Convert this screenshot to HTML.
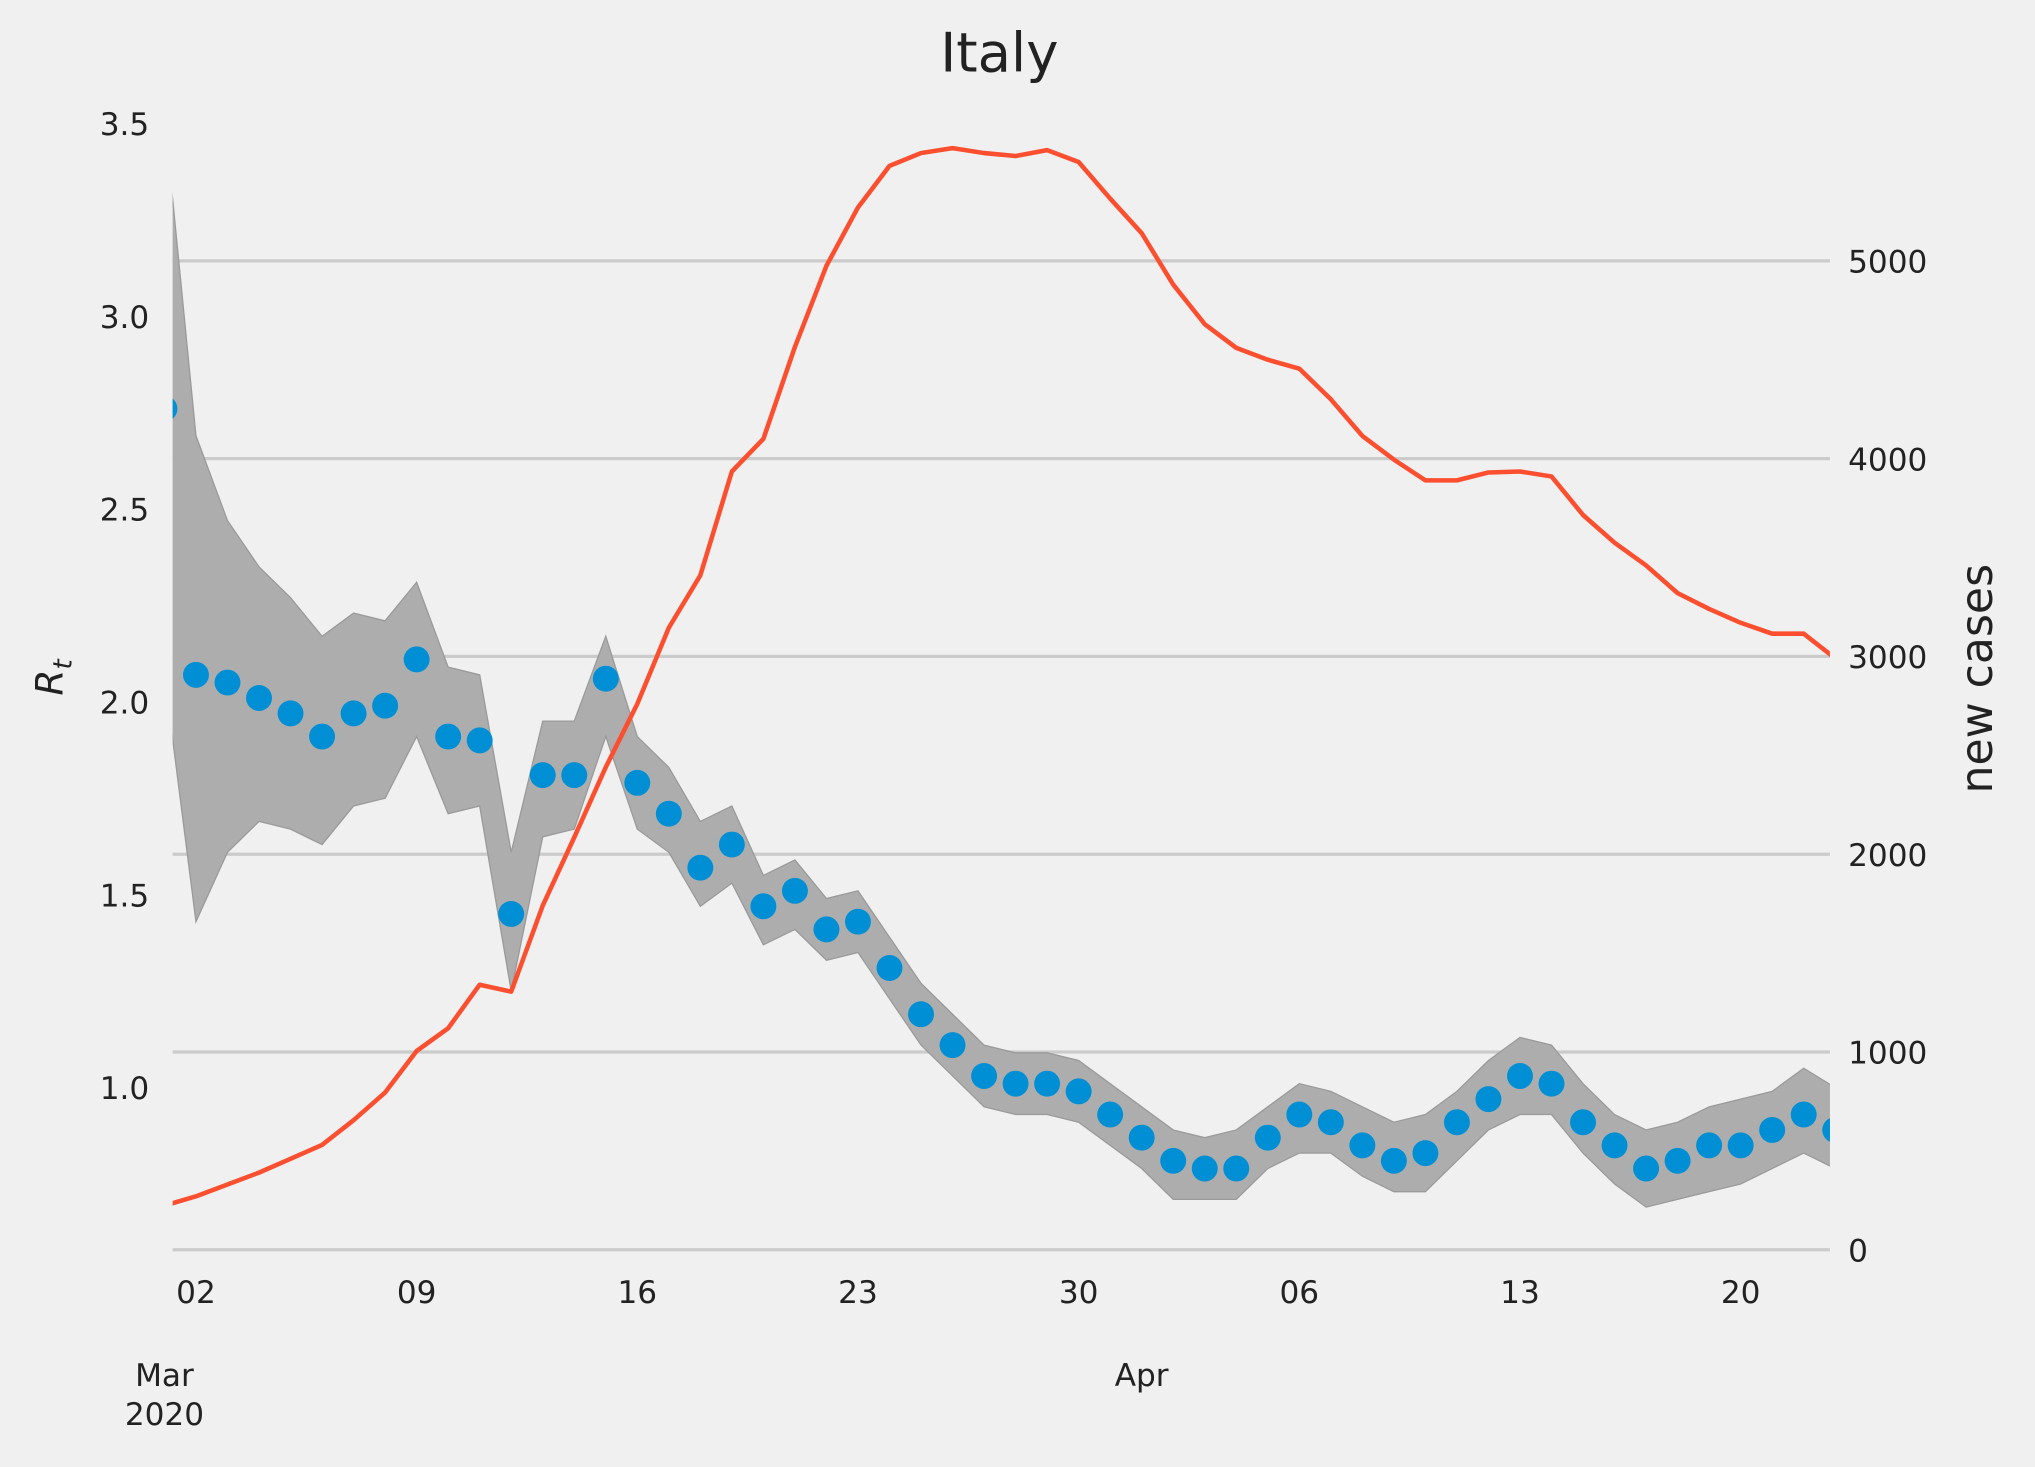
<!DOCTYPE html>
<html><head><meta charset="utf-8"><style>
html,body{margin:0;padding:0;background:#f0f0f0;}
svg{display:block;font-family:"DejaVu Sans","Liberation Sans",sans-serif;}
</style></head><body>
<svg id="chart" width="2035" height="1467" viewBox="0 0 1568 1130.4" preserveAspectRatio="none">
<rect x="0" y="0" width="1568" height="1131" fill="#f0f0f0"/>
<defs><clipPath id="pc"><rect x="133" y="80" width="1277" height="890"/></clipPath></defs>
<g id="grid"></g>
<g id="plot" clip-path="url(#pc)"></g>
<g id="axes"></g>
<text x="770" y="55" text-anchor="middle" font-size="42" fill="#222">Italy</text>
<text transform="translate(48,522) rotate(-90)" text-anchor="middle" font-size="29" fill="#222"><tspan font-style="italic">R</tspan><tspan font-style="italic" font-size="20" dy="7">t</tspan></text>
<text transform="translate(1535,523) rotate(-90)" text-anchor="middle" font-size="34" fill="#222">new cases</text>
</svg>
<script>
const rtValues=[2.76,2.07,2.05,2.01,1.97,1.91,1.97,1.99,2.11,1.91,1.90,1.45,1.81,1.81,2.06,1.79,1.71,1.57,1.63,1.47,1.51,1.41,1.43,1.31,1.19,1.11,1.03,1.01,1.01,0.99,0.93,0.87,0.81,0.79,0.79,0.87,0.93,0.91,0.85,0.81,0.83,0.91,0.97,1.03,1.01,0.91,0.85,0.79,0.81,0.85,0.85,0.89,0.93,0.89];
const rtUpper=[3.52,2.69,2.47,2.35,2.27,2.17,2.23,2.21,2.31,2.09,2.07,1.61,1.95,1.95,2.17,1.91,1.83,1.69,1.73,1.55,1.59,1.49,1.51,1.39,1.27,1.19,1.11,1.09,1.09,1.07,1.01,0.95,0.89,0.87,0.89,0.95,1.01,0.99,0.95,0.91,0.93,0.99,1.07,1.13,1.11,1.01,0.93,0.89,0.91,0.95,0.97,0.99,1.05,1.00];
const rtLower=[2.07,1.43,1.61,1.69,1.67,1.63,1.73,1.75,1.91,1.71,1.73,1.25,1.65,1.67,1.91,1.67,1.61,1.47,1.53,1.37,1.41,1.33,1.35,1.23,1.11,1.03,0.95,0.93,0.93,0.91,0.85,0.79,0.71,0.71,0.71,0.79,0.83,0.83,0.77,0.73,0.73,0.81,0.89,0.93,0.93,0.83,0.75,0.69,0.71,0.73,0.75,0.79,0.83,0.79];
const newCases=[223,270,330,390,460,530,655,795,1005,1120,1340,1305,1740,2085,2440,2760,3145,3410,3935,4100,4565,4975,5270,5480,5545,5570,5545,5530,5560,5500,5315,5140,4880,4680,4560,4500,4455,4300,4115,3995,3890,3890,3930,3935,3910,3715,3575,3460,3320,3240,3170,3115,3115,2990];
const leftTicks=[1.0,1.5,2.0,2.5,3.0,3.5];
const rightTicks=[0,1000,2000,3000,4000,5000];
const xTickDays=[1,8,15,22,29,36,43,50];
const xTickLabels=["02","09","16","23","30","06","13","20"];

const NS="http://www.w3.org/2000/svg";
function xs(d){return 126.7+d*24.29;}
function yl(v){return 838-(v-1)*297.2;}
function yr(v){return 963-v*0.1524;}
function mk(tag,attrs,parent){const e=document.createElementNS(NS,tag);for(const k in attrs)e.setAttribute(k,attrs[k]);parent.appendChild(e);return e;}
const grid=document.getElementById('grid'),plot=document.getElementById('plot'),axes=document.getElementById('axes');

rightTicks.forEach(v=>{
  const l=mk('line',{x1:133,x2:1410,y1:yr(v),y2:yr(v),stroke:'#cbcbcb','stroke-width':2.5},grid);
  
  
  const t=mk('text',{x:1424,y:yr(v)+9,'font-size':24,fill:'#222'},axes);
  t.textContent=v;
  
  
});
leftTicks.forEach(v=>{
  const t=mk('text',{x:115,y:yl(v)+9,'font-size':24,fill:'#222','text-anchor':'end'},axes);
  t.textContent=v.toFixed(1);
  
  
});
xTickDays.forEach((d,i)=>{
  const t=mk('text',{x:xs(d),y:1004,'font-size':24,fill:'#222','text-anchor':'middle'},axes);
  t.textContent=xTickLabels[i];
  
  
});
[["Mar",0,1068],["2020",0,1098],["Apr",31,1068]].forEach(a=>{
  const t=mk('text',{x:xs(a[1]),y:a[2],'font-size':24,fill:'#222','text-anchor':'middle'},axes);
  t.textContent=a[0];
  
  
});

let bp='';
rtUpper.forEach((v,i)=>{bp+=(i?'L':'M')+xs(i)+','+yl(v);});
for(let i=rtLower.length-1;i>=0;i--)bp+='L'+xs(i)+','+yl(rtLower[i]);
const band=mk('path',{d:bp+'Z',fill:'#adadad',stroke:'#9a9a9a','stroke-width':1},plot);



let lp='';
newCases.forEach((v,i)=>{lp+=(i?'L':'M')+xs(i)+','+yr(v);});
const line=mk('path',{d:lp,fill:'none',stroke:'#fc4f30','stroke-width':3.5,'stroke-linejoin':'round'},plot);



rtValues.forEach((v,i)=>{
  const c=mk('circle',{cx:xs(i),cy:yl(v),r:10,fill:'#008fd5'},plot);
  
  
});
</script>
</body></html>
